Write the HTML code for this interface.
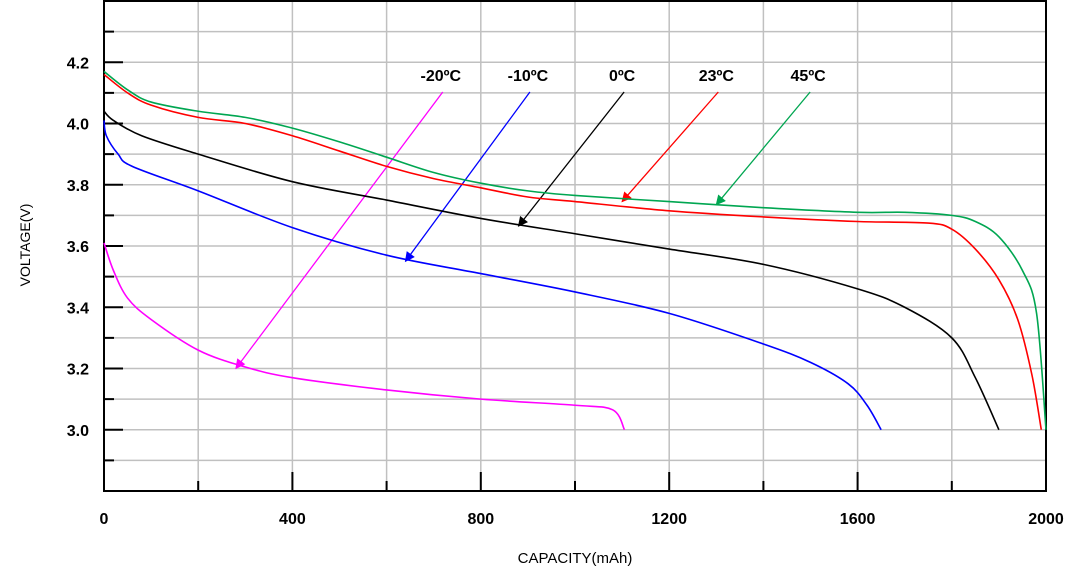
<!DOCTYPE html>
<html><head><meta charset="utf-8"><style>
body{margin:0;background:#fff;width:1080px;height:575px;overflow:hidden;font-family:"Liberation Sans",Arial,sans-serif}
svg text{font-family:"Liberation Sans",Arial,sans-serif}
</style></head><body>
<svg id="c" width="1080" height="575" xmlns="http://www.w3.org/2000/svg">
<defs>
<marker id="ah" viewBox="0 0 10 10" refX="9" refY="5" markerWidth="11" markerHeight="10" orient="auto-start-reverse" markerUnits="userSpaceOnUse"><path d="M0,0 L10,5 L0,10 z" fill="context-stroke"/></marker>
</defs>
</svg>
<script>
const xTicks=[0,400,800,1200,1600,2000];
const yTicks=[3.0,3.2,3.4,3.6,3.8,4.0,4.2];
const seriesNames=["-20ºC","-10ºC","0ºC","23ºC","45ºC"];
const seriesColors=["#ff00ff","#0000ff","#000000","#ff0000","#00a651"];
const s45=[[0,4.17],[50,4.11],[100,4.07],[200,4.04],[300,4.02],[400,3.985],[500,3.94],[600,3.89],[700,3.84],[800,3.805],[900,3.78],[1000,3.765],[1200,3.745],[1400,3.725],[1600,3.71],[1700,3.71],[1800,3.70],[1850,3.68],[1900,3.63],[1950,3.52],[1980,3.38],[2000,3.0]];
const s23=[[0,4.16],[50,4.10],[100,4.06],[200,4.02],[300,4.0],[400,3.96],[500,3.91],[600,3.86],[700,3.82],[800,3.79],[900,3.76],[1000,3.745],[1200,3.715],[1400,3.695],[1600,3.68],[1750,3.675],[1800,3.655],[1850,3.59],[1900,3.49],[1940,3.36],[1970,3.18],[1990,3.0]];
const s0=[[0,4.04],[20,4.01],[80,3.96],[200,3.90],[400,3.81],[600,3.75],[800,3.69],[1000,3.64],[1200,3.59],[1400,3.54],[1600,3.46],[1700,3.40],[1800,3.30],[1850,3.17],[1900,3.0]];
const sm10=[[0,4.01],[5,3.96],[30,3.90],[60,3.86],[200,3.78],[400,3.66],[600,3.57],[800,3.51],[1000,3.45],[1200,3.38],[1400,3.28],[1500,3.22],[1580,3.15],[1620,3.08],[1650,3.0]];
const sm20=[[0,3.61],[20,3.52],[50,3.43],[100,3.36],[200,3.26],[300,3.205],[400,3.17],[600,3.13],[800,3.10],[1000,3.08],[1080,3.065],[1105,3.0]];
const arrowTargets=[[280,3.2],[640,3.55],[880,3.665],[1100,3.745],[1300,3.735]];
const labelX=[715,900,1100,1300,1495];

const L=104,R=1046,T=1,B=491;
const X=v=>L+(v-0)/2000*(R-L);
const Y=v=>B-(v-2.8)/1.6*(B-T);
const svg=document.getElementById('c');
const NS='http://www.w3.org/2000/svg';
function mk(t,a,p){const e=document.createElementNS(NS,t);for(const k in a)e.setAttribute(k,a[k]);(p||svg).appendChild(e);return e;}
const grid=mk('g',{});


for(let v=200;v<2000;v+=200){const l=mk('line',{x1:X(v),x2:X(v),y1:T,y2:B,stroke:'#c0c0c0','stroke-width':1.5},grid);

}
for(let i=1;i<16;i++){const v=2.8+i*0.1;const l=mk('line',{x1:L,x2:R,y1:Y(v),y2:Y(v),stroke:'#c0c0c0','stroke-width':1.5},grid);


const tk=mk('line',{x1:L,x2:L+(i%2==0?19:10),y1:Y(v),y2:Y(v),stroke:'#000','stroke-width':2});

}
for(let v=200;v<2000;v+=200){const tk=mk('line',{x1:X(v),x2:X(v),y1:B,y2:B-(v%400==0?19:10),stroke:'#000','stroke-width':2});

}
const frame=mk('rect',{x:L,y:T,width:R-L,height:B-T,fill:'none',stroke:'#000','stroke-width':2});


xTicks.forEach(v=>{const t=mk('text',{x:X(v),y:524,'text-anchor':'middle','font-size':16,'font-weight':'bold'});t.textContent=v;

});
yTicks.forEach(v=>{const t=mk('text',{x:89,y:Y(v)+6,'text-anchor':'end','font-size':16,'font-weight':'bold'});t.textContent=v.toFixed(1);

});
const xt=mk('text',{x:575,y:563,'text-anchor':'middle','font-size':15});xt.textContent='CAPACITY(mAh)';


const yt=mk('text',{x:0,y:0,'text-anchor':'middle','font-size':14,transform:'translate(30,245) rotate(-90)'});yt.textContent='VOLTAGE(V)';


function path(pts){const p=pts.map(d=>[X(d[0]),Y(d[1])]);let s='M'+p[0][0]+','+p[0][1];
for(let i=0;i<p.length-1;i++){const p0=p[i-1]||p[i],p1=p[i],p2=p[i+1],p3=p[i+2]||p2;
const c1=[p1[0]+(p2[0]-p0[0])/6,p1[1]+(p2[1]-p0[1])/6],c2=[p2[0]-(p3[0]-p1[0])/6,p2[1]-(p3[1]-p1[1])/6];
s+=' C'+c1+' '+c2+' '+p2;}return s;}
const all=[sm20,sm10,s0,s23,s45];
all.forEach((d,i)=>{const e=mk('path',{d:path(d),fill:'none',stroke:seriesColors[i],'stroke-width':1.6});


const lx=X(labelX[i]);
const t=mk('text',{x:lx,y:81,'text-anchor':'middle','font-size':16,'font-weight':'bold'});t.textContent=seriesNames[i];


const a=mk('line',{x1:lx+2,y1:92,x2:X(arrowTargets[i][0]),y2:Y(arrowTargets[i][1]),stroke:seriesColors[i],'stroke-width':1.3,'marker-end':'url(#ah)'});

});
</script>
</body></html>
